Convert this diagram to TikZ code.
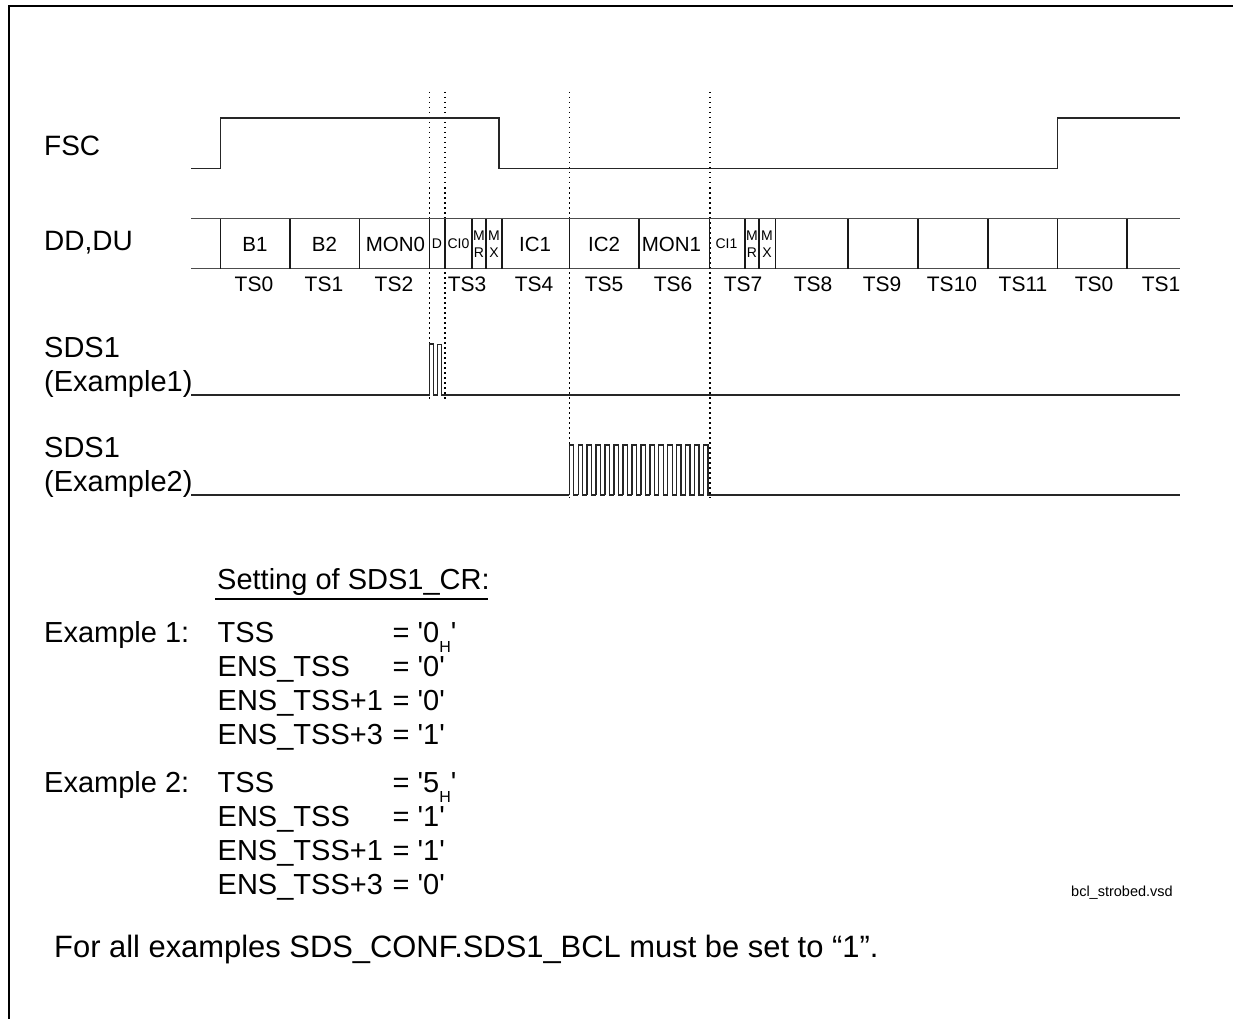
\documentclass[tikz,border=0pt]{standalone}
\usepackage{fontspec}
\setmainfont{Liberation Sans}[Ligatures=TeXOff]
\usetikzlibrary{positioning}
\newcommand{\fsz}[1]{\fontsize{#1}{#1}\selectfont}
\tikzset{
  sig/.style={line width=1.3pt,draw=black!85},
  busln/.style={line width=1.6pt,draw=black!70},
  divln/.style={line width=1.4pt,draw=black!90},
  guide/.style={line width=1.3pt,black,dash pattern=on 1.5pt off 3.5pt},
  lbl/.style={anchor=base west,inner sep=0pt,font=\fsz{29}},
  siglbl/.style={lbl,font=\fsz{28}},
  slot/.style={anchor=base,inner sep=0pt,font=\fsz{20.5}},
  tslbl/.style={anchor=base,inner sep=0pt,font=\fsz{21}},
  tiny/.style={anchor=base,inner sep=0pt,font=\fsz{14}},
  twoln/.style={anchor=base,inner sep=0pt,font=\fsz{14},align=center}
}
\newcommand{\sub}[1]{\raisebox{-10pt}{\fsz{16}#1}}

\begin{document}
\begin{tikzpicture}[x=1pt,y=-1pt]
  \useasboundingbox (0,0) rectangle (1233,1019);
  % outer frame, open on the right and below
  \draw[line width=2pt] (9,1019) -- (9,6) -- (1233,6);

  % guides
  \draw[guide] (429.5,92) -- (429.5,401);
  \draw[guide] (445,92) -- (445,401);
  \draw[guide] (569.8,92) -- (569.8,498);
  \draw[guide] (710,92) -- (710,498);

  % FSC
  \node[siglbl] (fsc) at (44,156) {FSC};
  \draw[sig] (191,168.5) -- (220.5,168.5) -- (220.5,118) -- (499,118) -- (499,168.5)
    -- (1057.5,168.5) -- (1057.5,118) -- (1180,118);

  % DD,DU
  \node[siglbl] (dd) at (44,250) {DD,DU};
  \draw[busln] (191,218.5) -- (1180,218.5);
  \draw[busln] (191,268.5) -- (1180,268.5);
  \foreach \x in {220.5,290,359.5,429.5,445,472,486,502,569.5,639,709.5,745,759,775.5,848,918,988,1057.5,1127}
    \draw[divln] (\x,218.5) -- (\x,268.5);

  \node[slot] (b1) at (255,251) {B1};
  \node[slot] (b2) at (324.5,251) {B2};
  \node[slot] (mon0) at (395.5,251) {MON0};
  \node[tiny] (d) at (437,248.5) {D};
  \node[tiny] (ci0) at (458.5,248.5) {CI0};
  \node[twoln] (mr0) at (479,257) {M\\[3pt]R};
  \node[twoln] (mx0) at (494,257) {M\\[3pt]X};
  \node[slot] (ic1) at (535,251) {IC1};
  \node[slot] (ic2) at (604,251) {IC2};
  \node[slot] (mon1) at (671.5,251) {MON1};
  \node[tiny] (ci1) at (726.5,248.5) {CI1};
  \node[twoln] (mr1) at (752,257) {M\\[3pt]R};
  \node[twoln] (mx1) at (767,257) {M\\[3pt]X};

  \foreach \x/\t in {254/TS0,324/TS1,394/TS2,467/TS3,534/TS4,604/TS5,673/TS6,743/TS7,813/TS8,882/TS9,952/TS10,1023/TS11,1094/TS0}
    \node[tslbl] (\t-\x) at (\x,291) {\t};
  \node[tslbl,anchor=base east] (ts1b) at (1180.5,291) {TS1};

  % SDS1 example 1
  \node[lbl,align=left] (sdsa) at (44,391) {SDS1\\[4.5pt](Example1)};
  \draw[sig] (191,395) -- (429.5,395) -- (429.5,344) -- (433.5,344) -- (433.5,395)
    -- (437.5,395) -- (437.5,344.5) -- (441.5,344.5) -- (441.5,395) -- (1180,395);

  % SDS1 example 2
  \node[lbl,align=left] (sdsb) at (44,491) {SDS1\\[4.5pt](Example2)};
  \draw[sig] (191,495) -- (569.2,495);
  \foreach \i in {0,...,15}
    \draw[sig] ({569.2+8.96*\i},495) -- ({569.2+8.96*\i},445) -- ({573.6+8.96*\i},445)
      -- ({573.6+8.96*\i},495) -- ({578.16+8.96*\i},495);
  \draw[sig] (708,495) -- (1180,495);

  % register settings
  \node[lbl] (setg) at (217,589) {Setting of SDS1\_CR:};
  \draw[line width=1.3pt] (215,599) -- (488,599);

  \node[lbl] (exa) at (44,642) {Example 1:};
  \node[lbl] (a1) at (217.5,642) {TSS};
  \node[lbl] (a2) at (217.5,676) {ENS\_TSS};
  \node[lbl] (a3) at (217.5,710) {ENS\_TSS+1};
  \node[lbl] (a4) at (217.5,744) {ENS\_TSS+3};
  \node[lbl] (va1) at (392.5,642) {= '0\sub{H}'};
  \node[lbl] (va2) at (392.5,676) {= '0'};
  \node[lbl] (va3) at (392.5,710) {= '0'};
  \node[lbl] (va4) at (392.5,744) {= '1'};

  \node[lbl] (exb) at (44,792) {Example 2:};
  \node[lbl] (b1s) at (217.5,792) {TSS};
  \node[lbl] (b2s) at (217.5,826) {ENS\_TSS};
  \node[lbl] (b3s) at (217.5,860) {ENS\_TSS+1};
  \node[lbl] (b4s) at (217.5,894) {ENS\_TSS+3};
  \node[lbl] (vb1) at (392.5,792) {= '5\sub{H}'};
  \node[lbl] (vb2) at (392.5,826) {= '1'};
  \node[lbl] (vb3) at (392.5,860) {= '1'};
  \node[lbl] (vb4) at (392.5,894) {= '0'};

  \node[lbl,font=\fsz{14.5}] (fname) at (1071,896) {bcl\_strobed.vsd};
  \node[lbl,font=\fsz{30.9}] (note) at (54,957) {For all examples SDS\_CONF.SDS1\_BCL must be set to “1”.};
\end{tikzpicture}
\end{document}
